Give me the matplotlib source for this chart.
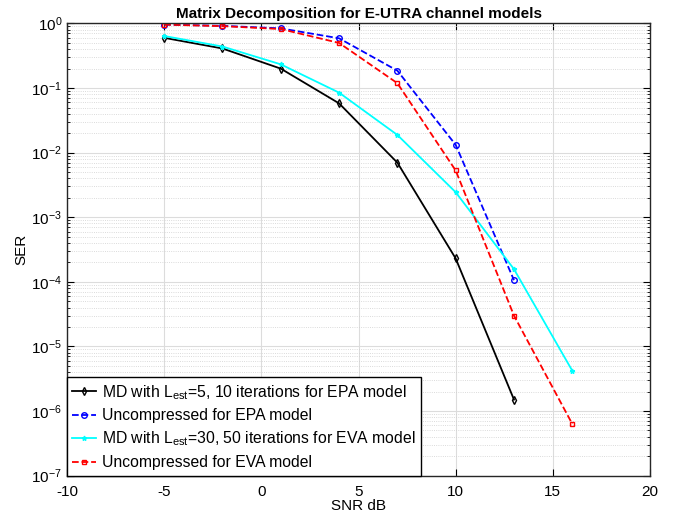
import numpy as np
import matplotlib.pyplot as plt
from matplotlib.ticker import LogLocator, NullFormatter

plt.rcParams['font.family'] = ['Liberation Sans', 'DejaVu Sans']
plt.rcParams['axes.unicode_minus'] = False

# SNR points (dB)
snr_epa = [-5, -2, 1, 4, 7, 10, 13]
snr_eva = [-5, -2, 1, 4, 7, 10, 13, 16]

# symbol error rates
ser_md_epa = [0.60, 0.41, 0.20, 0.058, 0.0070, 2.3e-4, 1.5e-6]
ser_unc_epa = [0.96, 0.92, 0.84, 0.59, 0.186, 0.0132, 1.06e-4]
ser_md_eva = [0.64, 0.44, 0.233, 0.085, 0.0188, 0.00244, 1.57e-4, 4.2e-6]
ser_unc_eva = [0.96, 0.91, 0.82, 0.50, 0.119, 0.0053, 3.0e-5, 6.3e-7]

labels = [
    r'MD with L$_{\mathregular{est}}$=5, 10 iterations for EPA model',
    'Uncompressed for EPA model',
    r'MD with L$_{\mathregular{est}}$=30, 50 iterations for EVA model',
    'Uncompressed for EVA model',
]

fig = plt.figure(figsize=(6.74, 5.22), dpi=100)
ax = fig.add_axes([0.0994, 0.089, 0.8650, 0.866])

ax.semilogy(snr_epa, ser_md_epa, '-', color='black', marker='d', mfc='none',
            ms=4, lw=1.3, label=labels[0])
ax.semilogy(snr_epa, ser_unc_epa, '--', color='blue', marker='o', mfc='none',
            ms=4, lw=1.3, label=labels[1])
ax.semilogy(snr_eva, ser_md_eva, '-', color='cyan', marker='*',
            ms=3.5, lw=1.3, label=labels[2])
ax.semilogy(snr_eva, ser_unc_eva, '--', color='red', marker='s', mfc='none',
            ms=3, lw=1.3, label=labels[3])

ax.set_xlim(-10, 20)
ax.set_ylim(1e-7, 1)
ax.set_xticks(np.arange(-10, 21, 5))
ax.yaxis.set_major_locator(LogLocator(base=10, numticks=10))
ax.yaxis.set_minor_locator(LogLocator(base=10, subs=np.arange(2, 10), numticks=20))
ax.yaxis.set_minor_formatter(NullFormatter())

ax.grid(True, which='major', color='#dcdcdc', lw=0.8)
ax.grid(True, which='minor', axis='y', color='#cfcfcf', ls=':', lw=0.6)
ax.set_axisbelow(True)
ax.tick_params(which='both', direction='in', top=True, right=True, labelsize=11)
ax.tick_params(which='major', length=5)
ax.tick_params(which='minor', length=2.5)
ax.tick_params(axis='x', pad=7)
for s in ax.spines.values():
    s.set_linewidth(1.0)
    s.set_color('#262626')

ax.set_xlabel('SNR dB', fontsize=11, labelpad=0)
ax.set_ylabel('SER', fontsize=11, labelpad=2)
ax.set_title('Matrix Decomposition for E-UTRA channel models',
             fontsize=11, fontweight='bold', pad=4)

leg = ax.legend(loc='lower left', fontsize=11.3, fancybox=False, framealpha=1,
                edgecolor='black', borderaxespad=0, handlelength=1.5,
                handletextpad=0.4, borderpad=0.35, labelspacing=0.42)
leg.get_frame().set_linewidth(1.0)

fig.savefig('out.png', dpi=100)
